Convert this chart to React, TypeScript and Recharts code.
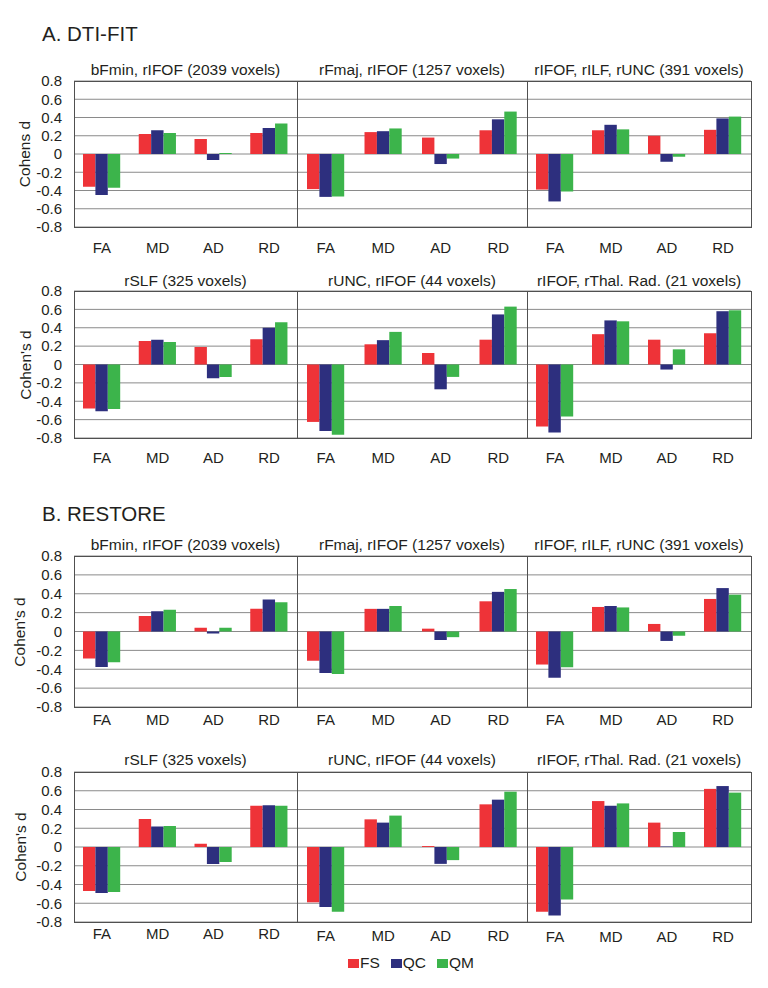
import React from 'react';
import { BarChart, Bar, XAxis, YAxis, CartesianGrid } from 'recharts';

const measures = ['FA', 'MD', 'AD', 'RD'];
const yTicks = [-0.8, -0.6, -0.4, -0.2, 0, 0.2, 0.4, 0.6, 0.8];
const seriesNames = ['FS', 'QC', 'QM'];
const seriesColors = ['#ee3338', '#2d2f7e', '#3cb44b'];

const regionTitles = [
  'bFmin, rIFOF (2039 voxels)',
  'rFmaj, rIFOF (1257 voxels)',
  'rIFOF, rILF, rUNC (391 voxels)',
  'rSLF (325 voxels)',
  'rUNC, rIFOF (44 voxels)',
  'rIFOF, rThal. Rad. (21 voxels)',
];

// A. DTI-FIT, one row of FA/MD/AD/RD per region
const dtiFS = [
  [-0.36, 0.22, 0.165, 0.23],
  [-0.385, 0.24, 0.18, 0.26],
  [-0.39, 0.26, 0.2, 0.265],
  [-0.48, 0.255, 0.19, 0.275],
  [-0.625, 0.22, 0.125, 0.27],
  [-0.675, 0.33, 0.27, 0.34],
];
const dtiQC = [
  [-0.45, 0.26, -0.065, 0.285],
  [-0.47, 0.25, -0.11, 0.38],
  [-0.52, 0.32, -0.085, 0.39],
  [-0.51, 0.27, -0.15, 0.4],
  [-0.725, 0.265, -0.27, 0.545],
  [-0.74, 0.48, -0.055, 0.58],
];
const dtiQM = [
  [-0.37, 0.23, 0.01, 0.335],
  [-0.465, 0.28, -0.05, 0.465],
  [-0.41, 0.27, -0.03, 0.41],
  [-0.485, 0.245, -0.135, 0.46],
  [-0.765, 0.355, -0.135, 0.63],
  [-0.565, 0.47, 0.165, 0.59],
];

// B. RESTORE
const restoreFS = [
  [-0.285, 0.165, 0.04, 0.24],
  [-0.31, 0.24, 0.03, 0.32],
  [-0.35, 0.26, 0.08, 0.345],
  [-0.47, 0.3, 0.035, 0.44],
  [-0.59, 0.295, 0.01, 0.455],
  [-0.69, 0.49, 0.26, 0.62],
];
const restoreQC = [
  [-0.375, 0.215, -0.02, 0.34],
  [-0.44, 0.24, -0.09, 0.42],
  [-0.49, 0.27, -0.1, 0.46],
  [-0.49, 0.22, -0.18, 0.445],
  [-0.64, 0.26, -0.18, 0.505],
  [-0.73, 0.44, 0.005, 0.65],
];
const restoreQM = [
  [-0.325, 0.23, 0.04, 0.31],
  [-0.45, 0.27, -0.06, 0.45],
  [-0.38, 0.255, -0.045, 0.39],
  [-0.48, 0.225, -0.16, 0.44],
  [-0.69, 0.335, -0.14, 0.59],
  [-0.56, 0.465, 0.16, 0.58],
];

const FONT = '"Liberation Sans", Arial, Helvetica, sans-serif';
const TEXT = '#231f20';
const AXIS_W = 74;
const PAD = 10;
const panelX = [74, 297, 527, 751];

const rows = [
  { fs: dtiFS, qc: dtiQC, qm: dtiQM, from: 0, top: 81, bottom: 227, titleY: 70, labelX: 25, yLabel: 'Cohens d', tickOff: [21, 21, 21] },
  { fs: dtiFS, qc: dtiQC, qm: dtiQM, from: 3, top: 291, bottom: 438, titleY: 281, labelX: 26, yLabel: "Cohen's d", tickOff: [19.5, 19.5, 19.5] },
  { fs: restoreFS, qc: restoreQC, qm: restoreQM, from: 0, top: 556, bottom: 707, titleY: 545, labelX: 20, yLabel: "Cohen's d", tickOff: [13, 13, 13] },
  { fs: restoreFS, qc: restoreQC, qm: restoreQM, from: 3, top: 772, bottom: 922, titleY: 760, labelX: 21, yLabel: "Cohen's d", tickOff: [11.5, 14, 14.5] },
];

function Panel({ fs, qc, qm, left, width, top, height, withAxis, tickOff }: any) {
  const data = measures.map((m, i) => ({ m, FS: fs[i], QC: qc[i], QM: qm[i] }));
  return (
    <div style={{ position: 'absolute', left: withAxis ? left - AXIS_W : left, top: top - PAD }}>
      <BarChart
        width={withAxis ? width + AXIS_W : width}
        height={height + 34 + PAD}
        data={data}
        margin={{ top: PAD, right: 0, bottom: 0, left: 0 }}
        barGap={0}
        barSize={12.4}
      >
        <CartesianGrid vertical={false} stroke="#8a8a8a" />
        <XAxis
          dataKey="m"
          height={34}
          axisLine={false}
          tickLine={false}
          tickSize={0}
          tickMargin={tickOff - 5.4}
          interval={0}
          tick={{ fontSize: 15, fill: TEXT, fontFamily: FONT }}
        />
        <YAxis
          domain={[-0.8, 0.8]}
          ticks={yTicks}
          interval={0}
          hide={!withAxis}
          width={AXIS_W}
          allowDataOverflow
          axisLine={false}
          tickLine={false}
          tickSize={0}
          tickMargin={12}
          tick={{ fontSize: 15, fill: TEXT, fontFamily: FONT }}
          tickFormatter={(v: number) => (v === 0 ? '0' : v.toFixed(1))}
        />
        {seriesNames.map((s, k) => (
          <Bar key={s} dataKey={s} fill={seriesColors[k]} isAnimationActive={false} />
        ))}
      </BarChart>
    </div>
  );
}

export default function App() {
  return (
    <div style={{ position: 'absolute', left: 0, top: 0, width: 768, height: 988, background: '#fff', fontFamily: FONT, color: TEXT }}>
      <div style={{ position: 'absolute', left: 42, top: 21, fontSize: 20.5, lineHeight: '26px' }}>A. DTI-FIT</div>
      <div style={{ position: 'absolute', left: 42, top: 501, fontSize: 20.5, lineHeight: '26px' }}>B. RESTORE</div>

      {rows.map((r, ri) => {
        const h = r.bottom - r.top;
        return (
          <React.Fragment key={ri}>
            <div
              style={{
                position: 'absolute', left: r.labelX - 60, top: r.top + h / 2 - 10, width: 120, height: 20,
                lineHeight: '20px', textAlign: 'center', fontSize: 15.5, transform: 'rotate(-90deg)',
              }}
            >
              {r.yLabel}
            </div>
            {[0, 1, 2].map((p) => {
              const idx = r.from + p;
              const left = panelX[p];
              const width = panelX[p + 1] - panelX[p];
              return (
                <React.Fragment key={p}>
                  <div
                    style={{
                      position: 'absolute', left, width, top: r.titleY - 10, height: 20, lineHeight: '20px',
                      textAlign: 'center', fontSize: 15.5, whiteSpace: 'nowrap',
                    }}
                  >
                    {regionTitles[idx]}
                  </div>
                  <Panel
                    fs={r.fs[idx]}
                    qc={r.qc[idx]}
                    qm={r.qm[idx]}
                    left={left}
                    width={width}
                    top={r.top}
                    height={h}
                    withAxis={p === 0}
                    tickOff={r.tickOff[p]}
                  />
                </React.Fragment>
              );
            })}
            <div
              style={{
                position: 'absolute', left: panelX[0] - 0.5, top: r.top - 0.5, width: panelX[3] - panelX[0] + 1,
                height: h + 1, border: '1px solid #505050', boxSizing: 'border-box', pointerEvents: 'none',
              }}
            />
            {[1, 2].map((p) => (
              <div
                key={p}
                style={{ position: 'absolute', left: panelX[p] - 0.5, top: r.top, width: 1, height: h, background: '#505050' }}
              />
            ))}
          </React.Fragment>
        );
      })}

      <div style={{ position: 'absolute', left: 348, top: 954, display: 'flex', alignItems: 'center', fontSize: 15.5, lineHeight: '18px' }}>
        {seriesNames.map((s, k) => (
          <div key={s} style={{ display: 'flex', alignItems: 'center', marginRight: k < 2 ? 11 : 0 }}>
            <span style={{ display: 'inline-block', width: 11, height: 9, background: seriesColors[k], marginRight: 1 }} />
            <span>{s}</span>
          </div>
        ))}
      </div>
    </div>
  );
}
